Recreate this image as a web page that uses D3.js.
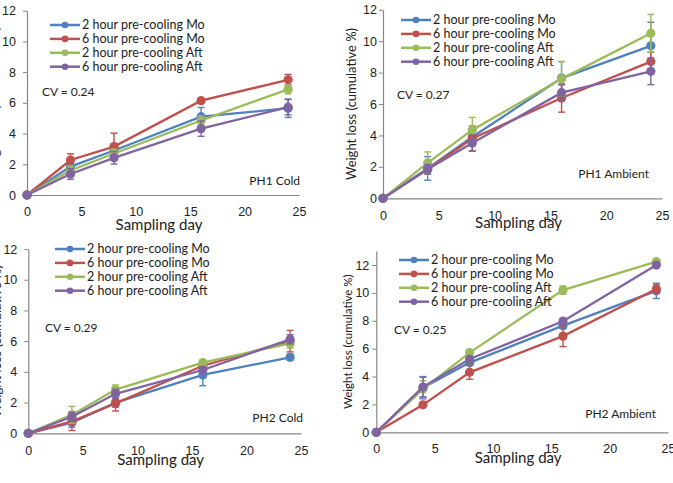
<!DOCTYPE html>
<html>
<head>
<meta charset="utf-8">
<script src="https://cdn.jsdelivr.net/npm/d3@7"></script>
<style>
  body { margin: 0; background: #fff; }
  svg { display: block; font-family: Lato, "Open Sans", sans-serif; }
</style>
</head>
<body>
<svg id="chart" width="673" height="483"></svg>
<script>
// sampling days and series
const days = [0, 4, 8, 16, 24];
const seriesNames = ['2 hour pre-cooling Mo', '6 hour pre-cooling Mo', '2 hour pre-cooling Aft', '6 hour pre-cooling Aft'];
const seriesColors = ['#4f81bd', '#c0504d', '#9bbb59', '#8064a2'];
const xTicks = [0, 5, 10, 15, 20, 25];
const yTicks = [0, 2, 4, 6, 8, 10, 12];

// weight loss (cumulative %), one row per series
const ph1ColdValues = [
  [0, 1.85, 2.9, 5.1, 5.65],
  [0, 2.28, 3.15, 6.14, 7.5],
  [0, 1.6, 2.7, 4.85, 6.88],
  [0, 1.37, 2.42, 4.32, 5.72]
];
const ph1ColdErrors = [
  [0, 0.3, 0.3, 0.6, 0.6],
  [0, 0.4, 0.87, 0.15, 0.35],
  [0, 0.3, 0.3, 0.3, 0.3],
  [0, 0.35, 0.4, 0.5, 0.5]
];
const ph1AmbientValues = [
  [0, 1.9, 3.9, 7.65, 9.7],
  [0, 1.85, 3.8, 6.38, 8.7],
  [0, 2.25, 4.35, 7.6, 10.5],
  [0, 1.85, 3.52, 6.72, 8.08]
];
const ph1AmbientErrors = [
  [0, 0.75, 0.4, 1.05, 1.5],
  [0, 0.3, 0.8, 0.9, 0.6],
  [0, 0.7, 0.8, 1.1, 1.2],
  [0, 0.3, 0.5, 0.5, 0.85]
];
const ph2ColdValues = [
  [0, 0.7, 2.0, 3.8, 4.95],
  [0, 0.78, 1.95, 4.4, 6.0],
  [0, 1.2, 2.85, 4.6, 5.85],
  [0, 1.08, 2.57, 4.12, 6.12]
];
const ph2ColdErrors = [
  [0, 0.3, 0.3, 0.7, 0.2],
  [0, 0.6, 0.5, 0.2, 0.7],
  [0, 0.55, 0.3, 0.2, 0.3],
  [0, 0.3, 0.3, 0.2, 0.3]
];
const ph2AmbientValues = [
  [0, 3.2, 5.0, 7.65, 10.15],
  [0, 1.97, 4.3, 6.9, 10.28],
  [0, 3.1, 5.72, 10.2, 12.24],
  [0, 3.25, 5.26, 7.97, 12.0]
];
const ph2AmbientErrors = [
  [0, 0.8, 0.2, 0.2, 0.55],
  [0, 0.1, 0.5, 0.75, 0.3],
  [0, 0.6, 0.2, 0.3, 0.1],
  [0, 0.7, 0.1, 0.2, 0.1]
];

const panels = [
  {label: 'PH1 Cold', cv: 'CV = 0.24', values: ph1ColdValues, errors: ph1ColdErrors, yMax: 12,
   x0: 27, x1: 299, y0: 195, y1: 10.7, tickPad: 7, xPad: 12, titleY: 230, yTitleX: -6, yTitleSize: 13,
   legend: [50, 25], cvPos: [42, 96], labelPos: [300, 185]},
  {label: 'PH1 Ambient', cv: 'CV = 0.27', values: ph1AmbientValues, errors: ph1AmbientErrors, yMax: 12,
   x0: 383, x1: 662, y0: 198.3, y1: 9.7, tickPad: 2, xPad: 13, titleY: 228, yTitleX: 351, yTitleSize: 13,
   legend: [401, 20], cvPos: [397, 99], labelPos: [649, 178]},
  {label: 'PH2 Cold', cv: 'CV = 0.29', values: ph2ColdValues, errors: ph2ColdErrors, yMax: 12,
   x0: 28.3, x1: 301, y0: 433.3, y1: 249, tickPad: 7, xPad: 13, titleY: 465, yTitleX: -4, yTitleSize: 13,
   legend: [55, 249], cvPos: [45, 332], labelPos: [303, 422]},
  {label: 'PH2 Ambient', cv: 'CV = 0.25', values: ph2AmbientValues, errors: ph2AmbientErrors, yMax: 13,
   x0: 376.3, x1: 668, y0: 432.3, y1: 251.1, tickPad: 3, xPad: 12, titleY: 463, yTitleX: 348, yTitleSize: 11.5,
   legend: [399, 260], cvPos: [394, 334], labelPos: [656, 418]}
];

const svg = d3.select('#chart');
const axisColor = '#868686';
const textColor = '#222';

panels.forEach(p => {
  const x = d3.scaleLinear().domain([0, 25]).range([p.x0, p.x1]);
  const y = d3.scaleLinear().domain([0, p.yMax]).range([p.y0, p.y1]);
  const g = svg.append('g');

  // axes
  const yAxis = g.append('g')
    .attr('transform', 'translate(' + p.x0 + ',0)')
    .call(d3.axisLeft(y).tickValues(yTicks).tickSize(4).tickPadding(p.tickPad).tickSizeOuter(0));
  const xAxis = g.append('g')
    .attr('transform', 'translate(0,' + p.y0 + ')')
    .call(d3.axisBottom(x).tickValues(xTicks).tickSize(0).tickPadding(p.xPad));
  [xAxis, yAxis].forEach(a => {
    a.select('.domain').attr('stroke', axisColor).attr('stroke-width', 1.2);
    a.selectAll('.tick line').attr('stroke', axisColor);
    a.selectAll('.tick text').attr('fill', textColor).style('font-size', '12.5px');
  });

  // axis titles
  g.append('text')
    .attr('x', (p.x0 + p.x1) / 2 - 4)
    .attr('y', p.titleY)
    .attr('text-anchor', 'middle')
    .attr('fill', textColor)
    .style('font-size', '15px')
    .text('Sampling day');
  g.append('text')
    .attr('transform', 'translate(' + p.yTitleX + ',' + (p.y0 + y(p.yMax)) / 2 + ') rotate(-90)')
    .attr('text-anchor', 'middle')
    .attr('dy', '0.35em')
    .attr('fill', textColor)
    .style('font-size', p.yTitleSize + 'px')
    .text('Weight loss (cumulative %)');

  // series: error bars, line, markers
  p.values.forEach((vals, s) => {
    const color = seriesColors[s];
    const pts = days.map((d, i) => ({day: d, v: vals[i], e: p.errors[s][i]}));
    const eb = g.append('g').attr('stroke', color).attr('stroke-width', 1.4);
    pts.filter(d => d.e > 0).forEach(d => {
      eb.append('line').attr('x1', x(d.day)).attr('x2', x(d.day))
        .attr('y1', y(d.v - d.e)).attr('y2', y(d.v + d.e));
      [d.v - d.e, d.v + d.e].forEach(v => {
        eb.append('line').attr('x1', x(d.day) - 3.5).attr('x2', x(d.day) + 3.5)
          .attr('y1', y(v)).attr('y2', y(v));
      });
    });
    g.append('path')
      .datum(pts)
      .attr('fill', 'none')
      .attr('stroke', color)
      .attr('stroke-width', 2.3)
      .attr('d', d3.line().x(d => x(d.day)).y(d => y(d.v)));
    g.selectAll(null)
      .data(pts)
      .enter()
      .append('circle')
      .attr('cx', d => x(d.day))
      .attr('cy', d => y(d.v))
      .attr('r', 4.6)
      .attr('fill', color);
  });

  // legend
  seriesNames.forEach((name, s) => {
    const ly = p.legend[1] + s * 13.9;
    const lx = p.legend[0];
    g.append('line').attr('x1', lx).attr('x2', lx + 30).attr('y1', ly).attr('y2', ly)
      .attr('stroke', seriesColors[s]).attr('stroke-width', 2.5);
    g.append('circle').attr('cx', lx + 15).attr('cy', ly).attr('r', 3.3).attr('fill', seriesColors[s]);
    g.append('text').attr('x', lx + 32).attr('y', ly).attr('dy', '0.35em')
      .attr('fill', textColor).style('font-size', '12.5px').text(name);
  });

  g.append('text').attr('x', p.cvPos[0]).attr('y', p.cvPos[1])
    .attr('fill', textColor).style('font-size', '12px').text(p.cv);
  g.append('text').attr('x', p.labelPos[0]).attr('y', p.labelPos[1])
    .attr('text-anchor', 'end')
    .attr('fill', textColor).style('font-size', '12px').text(p.label);
});
</script>
</body>
</html>
